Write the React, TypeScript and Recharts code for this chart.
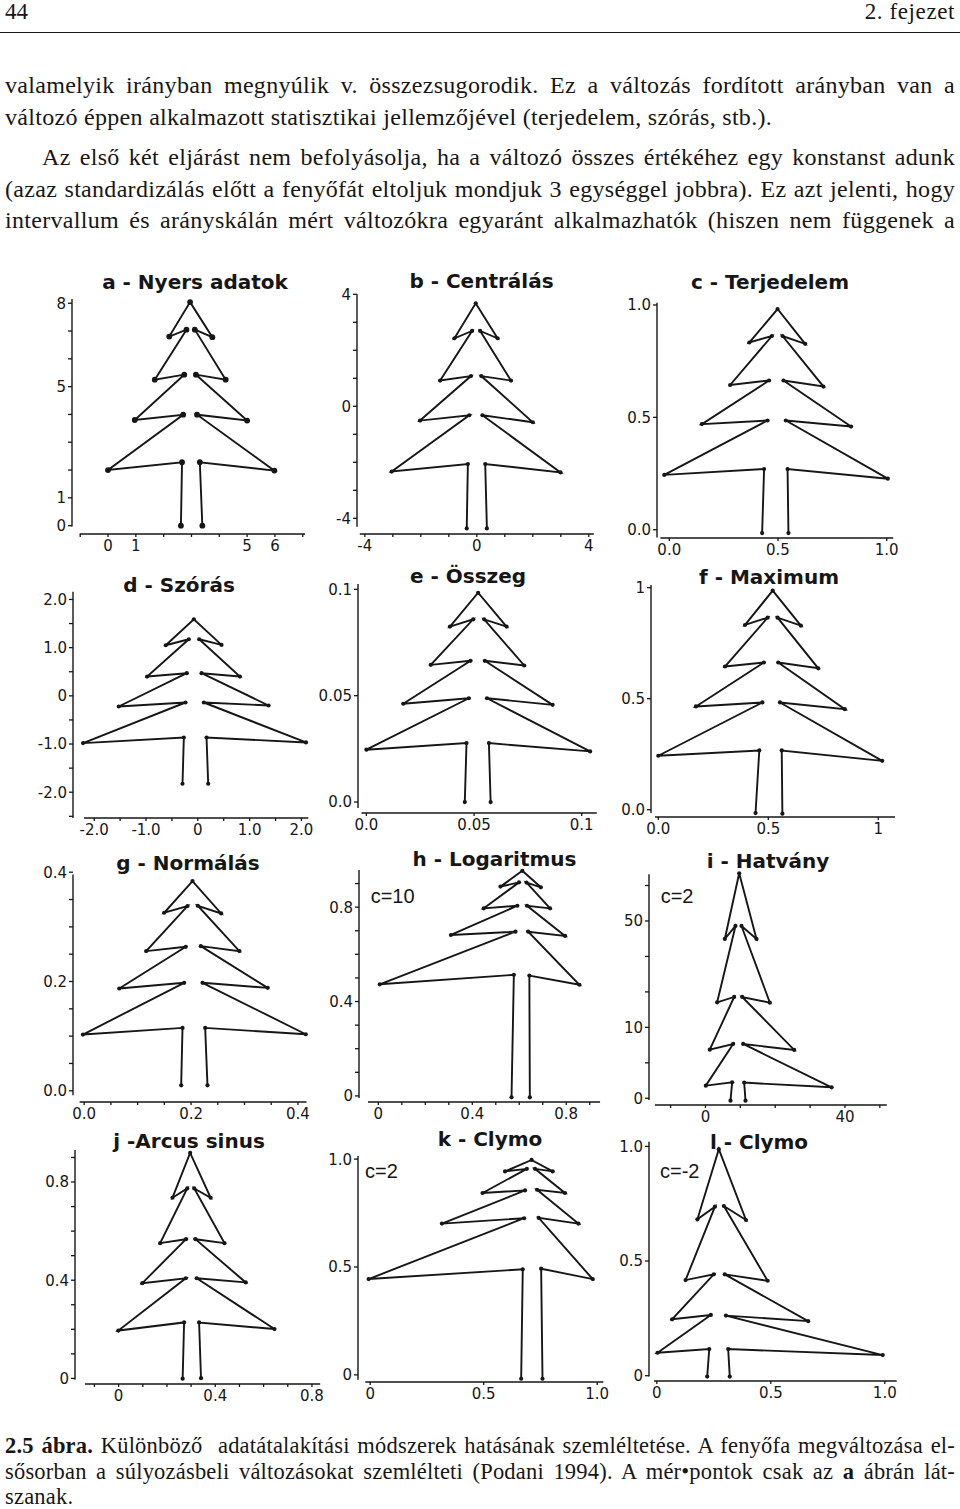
import React from 'react';
import { ScatterChart, Scatter, XAxis, YAxis, ReferenceLine } from 'recharts';

const INK = '#161616';

// ---------- data, point order follows the tree outline ----------
// a - Nyers adatok
const aX = [2.62, 2.66, 0, 2.7, 0.96, 2.74, 1.68, 2.82, 2.2, 2.95, 3.75, 3.12, 4.23, 3.16, 5.0, 3.2, 5.98, 3.3, 3.39];
const aY = [0, 2.28, 2.0, 3.99, 3.8, 5.43, 5.25, 7.05, 6.8, 8.04, 6.78, 7.05, 5.25, 5.43, 3.78, 3.99, 1.98, 2.28, 0];
const aXTicks = [-1, 0, 1, 2, 3, 4, 5, 6, 7];
const aXLabels = ['', '0', '1', '', '', '', '5', '6', ''];
const aYTicks = [0, 1, 2, 3, 4, 5, 6, 7, 8];
const aYLabels = ['0', '1', '', '', '', '5', '', '', '8'];

// b - Centrálás
const bX = [-0.36, -0.32, -3.04, -0.27, -2.03, -0.21, -1.31, -0.17, -0.8, -0.04, 0.74, 0.12, 1.22, 0.16, 2.0, 0.2, 2.99, 0.3, 0.36];
const bY = [-4.36, -2.06, -2.33, -0.32, -0.51, 1.08, 0.92, 2.69, 2.43, 3.68, 2.43, 2.69, 0.92, 1.08, -0.57, -0.32, -2.36, -2.06, -4.36];
const bXTicks = [-4, -3, -2, -1, 0, 1, 2, 3, 4];
const bXLabels = ['-4', '', '', '', '0', '', '', '', '4'];
const bYTicks = [-4, -3, -2, -1, 0, 1, 2, 3, 4];
const bYLabels = ['-4', '', '', '', '0', '', '', '', '4'];

// c - Terjedelem
const cX = [0.427, 0.436, -0.023, 0.452, 0.15, 0.459, 0.28, 0.472, 0.368, 0.498, 0.625, 0.521, 0.709, 0.525, 0.836, 0.536, 1.005, 0.544, 0.548];
const cY = [-0.015, 0.27, 0.244, 0.486, 0.47, 0.664, 0.644, 0.862, 0.833, 0.982, 0.827, 0.862, 0.637, 0.664, 0.459, 0.486, 0.227, 0.27, -0.015];
const cXTicks = [0, 0.5, 1];
const cXLabels = ['0.0', '0.5', '1.0'];
const cYTicks = [0, 0.5, 1];
const cYLabels = ['0.0', '0.5', '1.0'];

// d - Szórás
const dX = [-0.296, -0.27, -2.216, -0.238, -1.527, -0.213, -0.979, -0.174, -0.619, -0.077, 0.457, 0.026, 0.812, 0.071, 1.366, 0.116, 2.088, 0.168, 0.2];
const dY = [-1.824, -0.864, -0.981, -0.138, -0.221, 0.47, 0.4, 1.174, 1.05, 1.589, 1.057, 1.174, 0.4, 0.47, -0.2, -0.138, -0.967, -0.864, -1.824];
const dXTicks = [-2, -1.5, -1, -0.5, 0, 0.5, 1, 1.5, 2];
const dXLabels = ['-2.0', '', '-1.0', '', '0', '', '1.0', '', '2.0'];
const dYTicks = [-2.5, -2, -1.5, -1, -0.5, 0, 0.5, 1, 1.5, 2];
const dYLabels = ['', '-2.0', '', '-1.0', '', '0', '', '1.0', '', '2.0'];

// e - Összeg
const eX = [0.0457, 0.0465, 0, 0.0476, 0.0171, 0.0484, 0.0299, 0.0496, 0.0388, 0.0519, 0.0651, 0.0547, 0.0733, 0.055, 0.0865, 0.056, 0.1039, 0.0569, 0.0577];
const eY = [0, 0.0277, 0.0246, 0.0488, 0.0462, 0.0664, 0.0645, 0.0859, 0.0825, 0.0984, 0.0825, 0.0859, 0.0642, 0.0664, 0.0457, 0.0488, 0.0238, 0.0277, 0];
const eXTicks = [0, 0.05, 0.1];
const eXLabels = ['0.0', '0.05', '0.1'];
const eYTicks = [0, 0.05, 0.1];
const eYLabels = ['0.0', '0.05', '0.1'];

// f - Maximum
const fX = [0.442, 0.459, 0, 0.473, 0.171, 0.48, 0.303, 0.497, 0.394, 0.52, 0.648, 0.542, 0.727, 0.545, 0.848, 0.553, 1.018, 0.561, 0.564];
const fY = [-0.015, 0.267, 0.243, 0.483, 0.465, 0.663, 0.645, 0.865, 0.832, 0.987, 0.829, 0.865, 0.637, 0.663, 0.453, 0.483, 0.22, 0.267, -0.018];
const fXTicks = [0, 0.5, 1];
const fXLabels = ['0.0', '0.5', '1'];
const fYTicks = [0, 0.5, 1];
const fYLabels = ['0.0', '0.5', '1'];

// g - Normálás
const gX = [0.1815, 0.184, -0.0023, 0.1871, 0.0656, 0.1902, 0.1161, 0.1933, 0.1497, 0.2027, 0.2563, 0.2126, 0.2905, 0.2183, 0.3435, 0.2214, 0.4146, 0.2264, 0.2307];
const gY = [0.0101, 0.1151, 0.1029, 0.1976, 0.1872, 0.2635, 0.2556, 0.338, 0.3258, 0.3838, 0.3246, 0.3386, 0.2556, 0.2647, 0.1884, 0.1976, 0.1035, 0.1151, 0.0101];
const gXTicks = [0, 0.05, 0.1, 0.15, 0.2, 0.25, 0.3, 0.35, 0.4];
const gXLabels = ['0.0', '', '', '', '0.2', '', '', '', '0.4'];
const gYTicks = [0, 0.05, 0.1, 0.15, 0.2, 0.25, 0.3, 0.35, 0.4];
const gYLabels = ['0.0', '', '', '', '0.2', '', '', '', '0.4'];

// h - Logaritmus (c=10)
const hX = [0.567, 0.577, 0.006, 0.584, 0.309, 0.592, 0.449, 0.599, 0.52, 0.613, 0.692, 0.631, 0.731, 0.633, 0.795, 0.638, 0.856, 0.643, 0.645];
const hY = [-0.006, 0.513, 0.473, 0.696, 0.682, 0.806, 0.795, 0.905, 0.887, 0.954, 0.884, 0.904, 0.795, 0.806, 0.678, 0.696, 0.471, 0.51, -0.006];
const hXTicks = [0, 0.1, 0.2, 0.3, 0.4, 0.5, 0.6, 0.7, 0.8, 0.9];
const hXLabels = ['0', '', '', '', '0.4', '', '', '', '0.8', ''];
const hYTicks = [0, 0.1, 0.2, 0.3, 0.4, 0.5, 0.6, 0.7, 0.8, 0.9];
const hYLabels = ['0', '', '', '', '0.4', '', '', '', '0.8', ''];

// i - Hatvány (c=2)
const iX = [7.18, 7.66, 0.1, 7.94, 1.24, 8.23, 3.35, 8.61, 5.55, 9.67, 14.64, 10.33, 18.47, 10.53, 25.45, 10.81, 36.17, 11.1, 11.48];
const iY = [-0.66, 4.51, 3.57, 15.32, 13.72, 28.57, 27.07, 48.59, 44.92, 63.44, 44.92, 48.59, 26.97, 28.57, 13.63, 15.32, 3.1, 4.42, -0.66];
const iXTicks = [-10, 0, 10, 20, 30, 40, 50];
const iXLabels = ['', '0', '', '', '', '40', ''];
const iYTicks = [0, 10, 20, 30, 40, 50, 60];
const iYLabels = ['0', '', '10', '', '', '50', ''];

// j - Arcus sinus
const jX = [0.265, 0.271, -0.001, 0.278, 0.098, 0.279, 0.172, 0.284, 0.223, 0.296, 0.381, 0.313, 0.438, 0.318, 0.526, 0.323, 0.645, 0.333, 0.341];
const jY = [-0.001, 0.228, 0.195, 0.408, 0.388, 0.567, 0.551, 0.774, 0.736, 0.919, 0.736, 0.774, 0.551, 0.567, 0.391, 0.408, 0.201, 0.228, 0.001];
const jXTicks = [-0.1, 0, 0.1, 0.2, 0.3, 0.4, 0.5, 0.6, 0.7, 0.8];
const jXLabels = ['', '0', '', '', '', '0.4', '', '', '', '0.8'];
const jYTicks = [0, 0.1, 0.2, 0.3, 0.4, 0.5, 0.6, 0.7, 0.8, 0.9];
const jYLabels = ['0', '', '', '', '0.4', '', '', '', '0.8', ''];

// k - Clymo (c=2)
const kX = [0.665, 0.672, -0.007, 0.678, 0.316, 0.682, 0.495, 0.69, 0.594, 0.711, 0.804, 0.726, 0.858, 0.735, 0.917, 0.742, 0.98, 0.753, 0.759];
const kY = [-0.018, 0.489, 0.444, 0.726, 0.701, 0.855, 0.843, 0.955, 0.943, 0.996, 0.943, 0.955, 0.843, 0.858, 0.701, 0.728, 0.444, 0.492, -0.018];
const kXTicks = [0, 0.5, 1];
const kXLabels = ['0', '0.5', '1.0'];
const kYTicks = [0, 0.5, 1];
const kYLabels = ['0', '0.5', '1.0'];

// l - Clymo (c=-2)
const lX = [0.221, 0.23, 0.003, 0.237, 0.067, 0.25, 0.126, 0.255, 0.178, 0.272, 0.391, 0.294, 0.486, 0.298, 0.664, 0.303, 0.991, 0.313, 0.32];
const lY = [-0.004, 0.116, 0.1, 0.265, 0.246, 0.442, 0.417, 0.737, 0.682, 0.988, 0.679, 0.74, 0.414, 0.442, 0.238, 0.262, 0.09, 0.116, -0.004];
const lXTicks = [0, 0.5, 1];
const lXLabels = ['0', '0.5', '1.0'];
const lYTicks = [0, 0.5, 1];
const lYLabels = ['0', '0.5', '1.0'];

// ---------- layout (page pixels + axis domains) ----------
type Panel = {
  xs: number[]; ys: number[];
  xTicks: number[]; xLabels: string[]; yTicks: number[]; yLabels: string[];
  L: number; T: number; R: number; B: number;
  xDomain: [number, number]; yDomain: [number, number];
  xLine: [number, number]; yLine: [number, number];
  dotR: number;
  title: string; tx: number; ty: number;
  note?: string; nx?: number; ny?: number;
};

const panels: Panel[] = [
  { xs: aX, ys: aY, xTicks: aXTicks, xLabels: aXLabels, yTicks: aYTicks, yLabels: aYLabels,
    L: 72.3, T: 296, R: 310, B: 534, xDomain: [-1.295, 7.26], yDomain: [-0.3, 8.26],
    xLine: [-1.02, 7.08], yLine: [-0.03, 8.15], dotR: 2.9, title: 'a - Nyers adatok', tx: 195, ty: 289 },
  { xs: bX, ys: bY, xTicks: bXTicks, xLabels: bXLabels, yTicks: bYTicks, yLabels: bYLabels,
    L: 357.3, T: 293, R: 600, B: 534, xDomain: [-4.28, 4.4], yDomain: [-4.56, 4.046],
    xLine: [-4.18, 4.18], yLine: [-4.3, 4.0], dotR: 2.1, title: 'b - Centrálás', tx: 481.5, ty: 288 },
  { xs: cX, ys: cY, xTicks: cXTicks, xLabels: cXLabels, yTicks: cYTicks, yLabels: cYLabels,
    L: 656.7, T: 296, R: 900, B: 538.3, xDomain: [-0.0565, 1.0611], yDomain: [-0.0369, 1.04],
    xLine: [-0.041, 1.03], yLine: [-0.035, 1.01], dotR: 2.1, title: 'c - Terjedelem', tx: 770, ty: 289 },
  { xs: dX, ys: dY, xTicks: dXTicks, xLabels: dXLabels, yTicks: dYTicks, yLabels: dYLabels,
    L: 73.3, T: 588, R: 315, B: 818.3, xDomain: [-2.41, 2.262], yDomain: [-2.535, 2.238],
    xLine: [-2.197, 2.133], yLine: [-2.535, 2.16], dotR: 2.1, title: 'd - Szórás', tx: 179, ty: 592 },
  { xs: eX, ys: eY, xTicks: eXTicks, xLabels: eXLabels, yTicks: eYTicks, yLabels: eYLabels,
    L: 358.3, T: 580, R: 600, B: 813.3, xDomain: [-0.0039, 0.1085], yDomain: [-0.00516, 0.1044],
    xLine: [-0.0023, 0.107], yLine: [-0.0028, 0.1025], dotR: 2.1, title: 'e - Összeg', tx: 468, ty: 583 },
  { xs: fX, ys: fY, xTicks: fXTicks, xLabels: fXLabels, yTicks: fYTicks, yLabels: fYLabels,
    L: 651, T: 580, R: 900, B: 817.3, xDomain: [-0.0332, 1.0986], yDomain: [-0.0328, 1.0346],
    xLine: [-0.015, 1.076], yLine: [-0.015, 1.012], dotR: 2.1, title: 'f - Maximum', tx: 769, ty: 584 },
  { xs: gX, ys: gY, xTicks: gXTicks, xLabels: gXLabels, yTicks: gYTicks, yLabels: gYLabels,
    L: 72.7, T: 868, R: 315, B: 1101.7, xDomain: [-0.0209, 0.4319], yDomain: [-0.0205, 0.4077],
    xLine: [-0.0085, 0.416], yLine: [-0.008, 0.396], dotR: 2.1, title: 'g - Normálás', tx: 188, ty: 870 },
  { xs: hX, ys: hY, xTicks: hXTicks, xLabels: hXLabels, yTicks: hYTicks, yLabels: hYLabels,
    L: 359.3, T: 865, R: 605, B: 1102.3, xDomain: [-0.0823, 0.965], yDomain: [-0.0258, 0.9786],
    xLine: [-0.044, 0.944], yLine: [-0.009, 0.957], dotR: 2.1, title: 'h - Logaritmus', tx: 494.5, ty: 866,
    note: 'c=10', nx: 370.7, ny: 903 },
  { xs: iX, ys: iY, xTicks: iXTicks, xLabels: iXLabels, yTicks: iYTicks, yLabels: iYLabels,
    L: 649.3, T: 868, R: 895, B: 1105, xDomain: [-16.19, 54.35], yDomain: [-1.889, 64.93],
    xLine: [-14.5, 52], yLine: [-0.5, 63.2], dotR: 2.1, title: 'i - Hatvány', tx: 768, ty: 868,
    note: 'c=2', nx: 660.7, ny: 903 },
  { xs: jX, ys: jY, xTicks: jXTicks, xLabels: jXLabels, yTicks: jYTicks, yLabels: jYLabels,
    L: 75, T: 1148, R: 325, B: 1384.3, xDomain: [-0.1804, 0.854], yDomain: [-0.0228, 0.9386],
    xLine: [-0.139, 0.834], yLine: [-0.005, 0.93], dotR: 2.1, title: 'j -Arcus sinus', tx: 189, ty: 1148 },
  { xs: kX, ys: kY, xTicks: kXTicks, xLabels: kXLabels, yTicks: kYTicks, yLabels: kYLabels,
    L: 357.7, T: 1145, R: 605, B: 1382.3, xDomain: [-0.0537, 1.0343], yDomain: [-0.0331, 1.0654],
    xLine: [-0.0215, 1.027], yLine: [-0.023, 1.014], dotR: 2.1, title: 'k - Clymo', tx: 490, ty: 1146,
    note: 'c=2', nx: 365, ny: 1178 },
  { xs: lX, ys: lY, xTicks: lXTicks, xLabels: lXLabels, yTicks: lYTicks, yLabels: lYLabels,
    L: 649.3, T: 1138, R: 900, B: 1381, xDomain: [-0.0343, 1.0667], yDomain: [-0.0231, 1.0366],
    xLine: [-0.012, 1.052], yLine: [-0.004, 1.02], dotR: 2.1, title: 'l - Clymo', tx: 759, ty: 1149,
    note: 'c=-2', nx: 660, ny: 1178 },
];

const YW = 50;
const XH = 30;
const PADT = 14;
const PADR = 22;
const TICK_FONT = 'DejaVu Sans';
const TICK_SIZE = 15;

function labelFor(ticks: number[], labels: string[]) {
  return (v: number) => {
    const i = ticks.findIndex((t) => Math.abs(t - v) < 1e-9);
    return i >= 0 ? labels[i] : '';
  };
}

function makeXTick(fmt: (v: number) => string) {
  return (props: any) => {
    const { x, y, payload } = props;
    const t = fmt(payload.value);
    if (!t) return <g />;
    return (
      <text x={x} y={y + 12} textAnchor="middle" fontFamily={TICK_FONT} fontSize={TICK_SIZE} fill={INK}>
        {t}
      </text>
    );
  };
}

function makeYTick(fmt: (v: number) => string) {
  return (props: any) => {
    const { x, y, payload } = props;
    const t = fmt(payload.value);
    if (!t) return <g />;
    return (
      <text x={x} y={y + 5.4} textAnchor="end" fontFamily={TICK_FONT} fontSize={TICK_SIZE} fill={INK}>
        {t}
      </text>
    );
  };
}

function TreePanel({ p }: { p: Panel }) {
  const width = Math.round(p.R - p.L + YW + PADR);
  const height = Math.round(p.B - p.T + XH + PADT);
  const data = p.xs.map((x, i) => ({ x, y: p.ys[i] }));
  const r = p.dotR;
  const dot = (props: any) => <circle cx={props.cx} cy={props.cy} r={r} fill={INK} />;
  const xFmt = labelFor(p.xTicks, p.xLabels);
  const yFmt = labelFor(p.yTicks, p.yLabels);
  return (
    <div style={{ position: 'absolute', left: p.L - YW, top: p.T - PADT, width, height }}>
      <ScatterChart width={width} height={height} margin={{ top: PADT, right: PADR, bottom: 0, left: 0 }}>
        <XAxis
          type="number" dataKey="x" domain={p.xDomain} ticks={p.xTicks} interval={0}
          tick={makeXTick(xFmt)} allowDataOverflow axisLine={false}
          tickLine={{ stroke: INK, strokeWidth: 1.3 }} tickSize={3} height={XH}
        />
        <YAxis
          type="number" dataKey="y" domain={p.yDomain} ticks={p.yTicks} interval={0}
          tick={makeYTick(yFmt)} allowDataOverflow axisLine={false}
          tickLine={{ stroke: INK, strokeWidth: 1.3 }} tickSize={4} width={YW}
        />
        <ReferenceLine
          segment={[{ x: p.xDomain[0], y: p.yLine[0] }, { x: p.xDomain[0], y: p.yLine[1] }]}
          stroke={INK} strokeWidth={1.4} ifOverflow="visible"
        />
        <ReferenceLine
          segment={[{ x: p.xLine[0], y: p.yDomain[0] }, { x: p.xLine[1], y: p.yDomain[0] }]}
          stroke={INK} strokeWidth={1.4} ifOverflow="visible"
        />
        <Scatter
          data={data} fill={INK} line={{ stroke: INK, strokeWidth: 1.9 }} lineType="joint"
          shape={dot} isAnimationActive={false}
        />
      </ScatterChart>
    </div>
  );
}

const serif = '"Liberation Serif", "Times New Roman", serif';

function Line({ top, children, justify = true, left = 5, right = 955, size = 24, ls = 0.3 }: any) {
  return (
    <div
      style={{
        position: 'absolute', left, top, width: right - left, height: 30, lineHeight: '30px',
        fontFamily: serif, fontSize: size, letterSpacing: `${ls}px`, color: INK, whiteSpace: 'nowrap',
        textAlign: justify ? 'justify' : 'left', textAlignLast: justify ? 'justify' : 'left',
      } as React.CSSProperties}
    >
      {children}
    </div>
  );
}

export default function App() {
  return (
    <div style={{ position: 'absolute', left: 0, top: 0, width: 960, height: 1509, background: '#fff', overflow: 'hidden' }}>
      {/* running head */}
      <div style={{ position: 'absolute', left: 5, top: -2, fontFamily: serif, fontSize: 23, color: INK, lineHeight: '28px' }}>44</div>
      <div style={{ position: 'absolute', right: 5, top: -2, fontFamily: serif, fontSize: 23, letterSpacing: '0.6px', color: INK, lineHeight: '28px' }}>2. fejezet</div>
      <div style={{ position: 'absolute', left: 0, top: 32, width: 960, height: 1, background: INK }} />

      <Line top={70}>valamelyik irányban megnyúlik v. összezsugorodik. Ez a változás fordított arányban van a</Line>
      <Line top={102} justify={false}>változó éppen alkalmazott statisztikai jellemzőjével (terjedelem, szórás, stb.).</Line>
      <Line top={142} left={42}>Az első két eljárást nem befolyásolja, ha a változó összes értékéhez egy konstanst adunk</Line>
      <Line top={174}>(azaz standardizálás előtt a fenyőfát eltoljuk mondjuk 3 egységgel jobbra). Ez azt jelenti, hogy</Line>
      <Line top={205}>intervallum és arányskálán mért változókra egyaránt alkalmazhatók (hiszen nem függenek a</Line>

      {panels.map((p) => <TreePanel key={p.title} p={p} />)}

      <svg width={960} height={1509} style={{ position: 'absolute', left: 0, top: 0, pointerEvents: 'none' }}>
        {panels.map((p) => (
          <text key={p.title} x={p.tx} y={p.ty} textAnchor="middle" fontFamily="DejaVu Sans" fontWeight="bold" fontSize={20} fill={INK}>
            {p.title}
          </text>
        ))}
        {panels.filter((p) => p.note).map((p) => (
          <text key={p.title + 'n'} x={p.nx} y={p.ny} fontFamily="Liberation Sans" fontSize={20} fill={INK}>
            {p.note}
          </text>
        ))}
      </svg>

      <Line top={1431} size={22.5} ls={0.2}><b>2.5 ábra.</b> Különböző&nbsp; adatátalakítási módszerek hatásának szemléltetése. A fenyőfa megváltozása el-</Line>
      <Line top={1457} size={22.5} ls={0.2}>sősorban a súlyozásbeli változásokat szemlélteti (Podani 1994). A mér•pontok csak az <b>a</b> ábrán lát-</Line>
      <Line top={1482} size={22.5} ls={0.2} justify={false}>szanak.</Line>
    </div>
  );
}
